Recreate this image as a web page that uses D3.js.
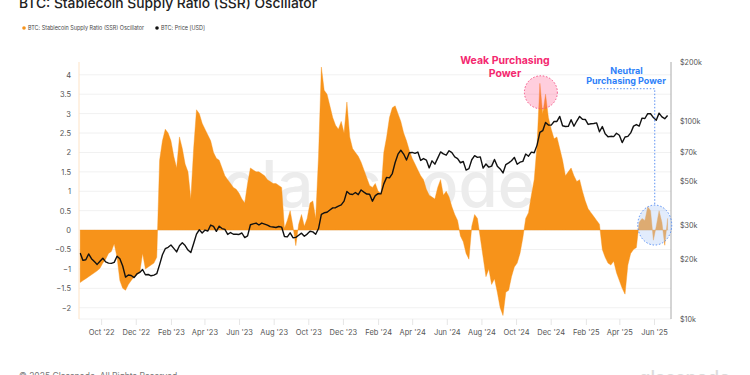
<!DOCTYPE html>
<html>
<head>
<meta charset="utf-8">
<script src="https://cdn.jsdelivr.net/npm/d3@7"></script>
<style>
body { margin: 0; background: #fff; }
svg { display: block; font-family: Inter, "Noto Sans", sans-serif; }
</style>
</head>
<body>
<div id="vis"></div>
<script>
// series sampled every 5 days from startDate
var startDate = "2022-08-25";
var stepDays = 5;

var ssrValues = [
  -1.35, -1.3, -1.25, -1.2, -1.15, -1.1, -1.05, -0.98, -0.85, -0.75,
  -0.6, -0.55, -0.35, -0.7, -1.3, -1.5, -1.55, -1.4, -1.3, -1.2,
  -1.15, -1.1, -0.6, -1.0, -0.95, -0.9, -0.85, -0.7, 1.8, 2.3,
  2.6, 2.5, 2.3, 1.9, 1.6, 2.4, 2.1, 1.7, 1.5, 0.8,
  2.1, 3.1, 3.0, 2.75, 2.6, 2.45, 2.3, 2.0, 1.85, 1.8,
  1.6, 1.4, 1.3, 1.2, 1.1, 1.05, 0.95, 0.8, 0.7, 1.2,
  1.6, 1.55, 1.5, 1.5, 1.45, 1.4, 1.3, 1.25, 1.2, 1.2,
  1.15, 1.1, 0.05, 0.25, 0.5, 0.1, -0.4, 0.15, 0.4, 0.1,
  0.3, 0.7, 0.75, 0.3, 1.9, 4.2, 3.6, 3.5, 3.2, 2.9,
  2.7, 2.6, 2.8, 2.5, 3.3, 2.4, 2.1, 2.0, 1.9, 1.75,
  1.55, 1.35, 1.15, 1.1, 1.2, 1.0, 0.95, 2.0, 2.4, 2.9,
  3.15, 3.2, 3.0, 2.8, 2.5, 2.3, 2.05, 1.85, 1.7, 1.55,
  1.4, 1.3, 1.05, 0.9, 0.85, 0.8, 1.1, 1.3, 0.9, 1.0,
  0.85, 0.6, 0.4, 0.25, -0.15, -0.3, -0.6, -0.75, 0.1, 0.4,
  0.3, -0.2, -0.7, -1.2, -1.0, -1.4, -1.25, -1.6, -2.0, -2.2,
  -1.6, -1.55, -1.2, -0.95, -0.85, -0.6, -0.2, 0.3, 0.45, 0.9,
  1.3, 2.2, 3.78, 3.0, 3.5, 2.9, 2.6, 2.35, 2.4, 2.1,
  1.8, 1.4, 1.5, 1.6, 1.4, 1.25, 1.3, 1.0, 0.75, 0.55,
  0.45, 0.35, 0.25, 0.15, -0.5, -0.7, -0.85, -0.9, -0.8, -1.1,
  -1.3, -1.5, -1.65, -0.9, -0.6, -0.5, -0.45, 0.2, 0.3, 0.25,
  0.6, 0.5, -0.26, 0.1, 0.5, 0.2, -0.39, 0.3
];

var priceValues = [
  21600, 19800, 19950, 21350, 20200, 19550, 18900, 19600, 20300, 19450,
  19180, 19120, 19350, 20800, 20200, 18550, 16300, 16700, 16600, 16200,
  16900, 17200, 17800, 16750, 16800, 16550, 16680, 16950, 18850, 21150,
  22700, 23070, 23700, 22770, 21860, 23500, 24300, 23550, 22350, 21700,
  24100, 26900, 28300, 27250, 28200, 27900, 29900, 29450, 27800, 29500,
  28700, 28450, 26800, 27400, 26850, 26850, 26800, 27250, 25850, 26350,
  30000, 30300, 30600, 29900, 30600, 30250, 29900, 29350, 29230, 29050,
  29400, 29200, 26150, 26050, 27300, 25800, 25900, 26550, 27200, 26250,
  26900, 27800, 27600, 26850, 28700, 33900, 34500, 34700, 35600, 36500,
  36600, 37300, 37800, 39500, 44200, 42900, 42700, 43700, 42600, 45000,
  43900, 42900, 42800, 39500, 42100, 43100, 43000, 48300, 52100, 51800,
  54500, 62000, 68300, 71500, 68400, 63800, 69500, 69700, 68900, 70000,
  63500, 64900, 63800, 58200, 63200, 60800, 65200, 70100, 68500, 67500,
  71100, 69500, 66200, 64900, 61800, 62700, 56700, 57700, 64000, 67100,
  65800, 66200, 58100, 60900, 58700, 59400, 64200, 59400, 57500, 54900,
  60500, 61700, 63300, 65800, 60700, 62200, 62800, 68400, 66700, 69900,
  69400, 75900, 88000, 89800, 98900, 95900, 95800, 99900, 100000, 106000,
  95100, 94300, 94400, 102000, 94600, 100500, 106100, 102600, 102400, 96600,
  97400, 97600, 98300, 88700, 94200, 86700, 83700, 84100, 83800, 87200,
  85200, 78200, 83400, 84000, 87500, 94700, 96500, 94700, 104000, 103500,
  109600, 109400, 104600, 101500, 110200, 105500, 103300, 107300
];

var ssrTicks = [-2, -1.5, -1, -0.5, 0, 0.5, 1, 1.5, 2, 2.5, 3, 3.5, 4];
var priceTicks = [10000, 20000, 30000, 50000, 70000, 100000, 200000];
var monthTicks = ["2022-10-01", "2022-12-01", "2023-02-01", "2023-04-01", "2023-06-01",
  "2023-08-01", "2023-10-01", "2023-12-01", "2024-02-01", "2024-04-01", "2024-06-01",
  "2024-08-01", "2024-10-01", "2024-12-01", "2025-02-01", "2025-04-01", "2025-06-01"];

var parseDay = d3.timeParse("%Y-%m-%d");
var monthFormat = d3.timeFormat("%b '%y");

var series = ssrValues.map(function (v, i) {
  return {
    date: d3.timeDay.offset(parseDay(startDate), i * stepDays),
    ssr: v,
    price: priceValues[i]
  };
});

var width = 750, height = 375;
var plot = { left: 79, right: 671, top: 62, bottom: 319 };

var svg = d3.select("#vis").append("svg").attr("width", width).attr("height", height);

var x = d3.scaleTime()
  .domain([parseDay("2022-08-23"), parseDay("2025-07-01")])
  .range([plot.left, plot.right]);
var yL = d3.scaleLinear().domain([-2.29, 4.33]).range([plot.bottom, plot.top]);
var yR = d3.scaleLog().domain([10000, 200000]).range([plot.bottom, plot.top]);

// title + legend
svg.append("text").attr("x", 19).attr("y", 8)
  .attr("font-size", 13.5).attr("font-weight", 500).attr("fill", "#222")
  .attr("textLength", 298).attr("lengthAdjust", "spacingAndGlyphs")
  .text("BTC: Stablecoin Supply Ratio (SSR) Oscillator");

svg.append("circle").attr("cx", 24).attr("cy", 28).attr("r", 1.8).attr("fill", "#f7931a");
svg.append("text").attr("x", 28).attr("y", 30).attr("font-size", 5.5).attr("fill", "#444")
  .attr("textLength", 116).attr("lengthAdjust", "spacingAndGlyphs")
  .text("BTC: Stablecoin Supply Ratio (SSR) Oscillator");
svg.append("circle").attr("cx", 157).attr("cy", 28).attr("r", 1.8).attr("fill", "#111");
svg.append("text").attr("x", 161).attr("y", 30).attr("font-size", 5.5).attr("fill", "#444")
  .attr("textLength", 44).attr("lengthAdjust", "spacingAndGlyphs")
  .text("BTC: Price [USD]");

// gridlines
svg.append("g").selectAll("line")
  .data(ssrTicks.concat([-2.29]))
  .enter().append("line")
  .attr("x1", plot.left).attr("x2", plot.right)
  .attr("y1", function (d) { return yL(d); })
  .attr("y2", function (d) { return yL(d); })
  .attr("stroke", "#f1f1f1").attr("stroke-width", 1);

// watermark
svg.append("text").attr("x", 222).attr("y", 207)
  .attr("font-size", 64).attr("font-weight", 500).attr("fill", "#ececec")
  .attr("textLength", 313).attr("lengthAdjust", "spacingAndGlyphs")
  .text("glassnode");

// ssr area
var area = d3.area()
  .x(function (d) { return x(d.date); })
  .y0(yL(0))
  .y1(function (d) { return yL(d.ssr); });

svg.append("path").datum(series)
  .attr("d", area)
  .attr("fill", "#f7931a")
  .attr("stroke", "#f7931a").attr("stroke-width", 0.4);

// price line
var line = d3.line()
  .x(function (d) { return x(d.date); })
  .y(function (d) { return yR(d.price); });

svg.append("path").datum(series)
  .attr("d", line)
  .attr("fill", "none").attr("stroke", "#111").attr("stroke-width", 1.4)
  .attr("stroke-linejoin", "round");

// axis lines
svg.append("line").attr("x1", plot.left).attr("x2", plot.left)
  .attr("y1", plot.top).attr("y2", plot.bottom)
  .attr("stroke", "#fde3c6").attr("stroke-width", 1);
svg.append("line").attr("x1", plot.right).attr("x2", plot.right)
  .attr("y1", plot.top).attr("y2", plot.bottom)
  .attr("stroke", "#aaa").attr("stroke-width", 1);

// left axis
var leftAxis = svg.append("g").attr("transform", "translate(" + (plot.left - 8) + ",0)")
  .call(d3.axisLeft(yL).tickValues(ssrTicks).tickSize(0).tickPadding(0)
    .tickFormat(function (d) { return d3.format("")(d); }));
leftAxis.select(".domain").remove();
leftAxis.selectAll("text").attr("font-size", 7.5).attr("fill", "#555").attr("font-family", "Inter, sans-serif");

// right axis
var rightAxis = svg.append("g").attr("transform", "translate(" + (plot.right + 9) + ",0)")
  .call(d3.axisRight(yR).tickValues(priceTicks).tickSize(0).tickPadding(0)
    .tickFormat(function (d) { return "$" + (d / 1000) + "k"; }));
rightAxis.select(".domain").remove();
rightAxis.selectAll("text").attr("font-size", 7.2).attr("fill", "#555").attr("font-family", "Inter, sans-serif");

// bottom axis
var bottomAxis = svg.append("g").attr("transform", "translate(0," + plot.bottom + ")")
  .call(d3.axisBottom(x).tickValues(monthTicks.map(parseDay)).tickSize(6).tickPadding(5)
    .tickFormat(monthFormat));
bottomAxis.select(".domain").remove();
bottomAxis.selectAll("line").attr("stroke", "#e6e6e6");
bottomAxis.selectAll("text").attr("font-size", 7.5).attr("fill", "#555").attr("font-family", "Inter, sans-serif");

// annotations
var peak = series[162];
svg.append("circle")
  .attr("cx", x(peak.date) + 1).attr("cy", yL(3.55)).attr("r", 16.5)
  .attr("fill", "#ff5c8d").attr("fill-opacity", 0.3)
  .attr("stroke", "#f0457c").attr("stroke-width", 0.9).attr("stroke-dasharray", "1.5,1.8");

svg.append("text").attr("x", 505).attr("y", 63.5).attr("text-anchor", "middle")
  .attr("font-size", 10.5).attr("font-weight", 700).attr("fill", "#f4286f")
  .text("Weak Purchasing");
svg.append("text").attr("x", 505).attr("y", 76.5).attr("text-anchor", "middle")
  .attr("font-size", 10.5).attr("font-weight", 700).attr("fill", "#f4286f")
  .text("Power");

var recent = series[203];
var cx = x(recent.date) - 1.5, cy = yL(0.13);
svg.append("ellipse")
  .attr("cx", cx).attr("cy", cy).attr("rx", 17).attr("ry", 20)
  .attr("fill", "#b7cff7").attr("fill-opacity", 0.4)
  .attr("stroke", "#4a86f2").attr("stroke-width", 0.9).attr("stroke-dasharray", "1.5,1.8");

svg.append("path")
  .attr("d", "M597,88.7H" + cx + "V" + (cy - 20))
  .attr("fill", "none").attr("stroke", "#4a86f2").attr("stroke-width", 0.9)
  .attr("stroke-dasharray", "1.5,1.8");

svg.append("text").attr("x", 626.5).attr("y", 74).attr("text-anchor", "middle")
  .attr("font-size", 9).attr("font-weight", 700).attr("fill", "#2d7ff9")
  .text("Neutral");
svg.append("text").attr("x", 626).attr("y", 84.3).attr("text-anchor", "middle")
  .attr("font-size", 9).attr("font-weight", 700).attr("fill", "#2d7ff9")
  .text("Purchasing Power");

// footer
svg.append("text").attr("x", 19).attr("y", 378.5)
  .attr("font-size", 8.5).attr("fill", "#777")
  .text("\u00a9 2025 Glassnode. All Rights Reserved.");
svg.append("text").attr("x", 639).attr("y", 384)
  .attr("font-size", 18).attr("font-weight", 500).attr("fill", "#dcdcdc")
  .attr("textLength", 91).attr("lengthAdjust", "spacingAndGlyphs")
  .text("glassnode");
</script>
</body>
</html>
